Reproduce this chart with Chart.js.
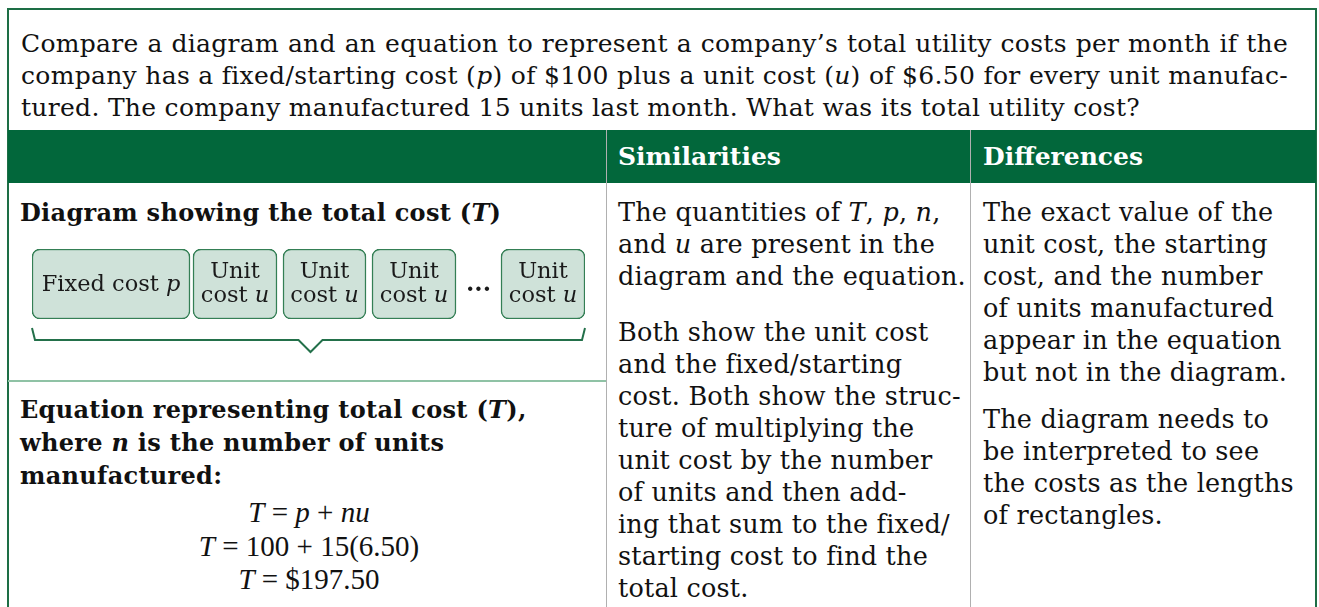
<!DOCTYPE html>
<html>
<head>
<meta charset="utf-8">
<script src="https://cdn.jsdelivr.net/npm/chart.js@4"></script>
<style>
  body { margin: 0; background: #fff; width: 1319px; height: 607px; overflow: hidden; position: relative; }
  .abs { position: absolute; }
  .frame { left: 7px; top: 8px; width: 1310px; height: 700px; border: 2px solid #1d6e45; box-sizing: border-box; }
  .txt { font-family: "DejaVu Serif", serif; color: #111; white-space: nowrap; }
  .intro { left: 21px; top: 28px; width: 1267px; font-size: 25px; line-height: 32px; letter-spacing: 0.3px; }
  .intro .j { text-align: justify; text-align-last: justify; }
  .head { top: 130px; left: 8px; width: 1308px; height: 53px; background: #02673b; }
  .hcell { top: 141px; font-family: "DejaVu Serif", serif; font-weight: bold; font-size: 25px; line-height: 32px; color: #fff; }
  .vline { top: 130px; width: 1px; height: 480px; background: #b0b0b0; }
  .hline { left: 8px; top: 380px; width: 598px; height: 2px; background: #8fc2a5; }
  .bold { font-weight: bold; font-size: 24px; line-height: 33px; letter-spacing: 0.3px; }
  .col { font-size: 25.5px; line-height: 32px; letter-spacing: 0.2px; }
  .eq { font-family: "Liberation Serif", serif; font-size: 29px; line-height: 33.5px; text-align: center; color: #111; white-space: nowrap; }
  #diagram { left: 20px; top: 240px; width: 580px; height: 125px; }
</style>
</head>
<body>
<div class="abs frame"></div>

<div class="abs txt intro">
  <div class="j">Compare a diagram and an equation to represent a company’s total utility costs per month if the</div>
  <div class="j">company has a fixed/starting cost (<i>p</i>) of $100 plus a unit cost (<i>u</i>) of $6.50 for every unit manufac-</div>
  <div>tured. The company manufactured 15 units last month. What was its total utility cost?</div>
</div>

<div class="abs head"></div>
<div class="abs hcell" style="left:618px">Similarities</div>
<div class="abs hcell" style="left:983px">Differences</div>
<div class="abs vline" style="left:606px"></div>
<div class="abs vline" style="left:970px"></div>
<div class="abs hline"></div>

<div class="abs txt bold" style="left:20px; top:196px">Diagram showing the total cost (<i>T</i>)</div>

<div class="abs" id="diagram"><canvas id="chart"></canvas></div>

<div class="abs txt bold" style="left:20px; top:393px">
  <div>Equation representing total cost (<i>T</i>),</div>
  <div>where <i>n</i> is the number of units</div>
  <div>manufactured:</div>
</div>
<div class="abs eq" style="left:10px; top:496px; width:598px">
  <div><i>T</i> = <i>p</i> + <i>nu</i></div>
  <div><i>T</i> = 100 + 15(6.50)</div>
  <div><i>T</i> = $197.50</div>
</div>

<div class="abs txt col" style="left:618px; top:196px">
  <div>The quantities of <i>T</i>, <i>p</i>, <i>n</i>,</div>
  <div>and <i>u</i> are present in the</div>
  <div>diagram and the equation.</div>
</div>
<div class="abs txt col" style="left:618px; top:316px">
  <div>Both show the unit cost</div>
  <div>and the fixed/starting</div>
  <div>cost. Both show the struc-</div>
  <div>ture of multiplying the</div>
  <div>unit cost by the number</div>
  <div>of units and then add-</div>
  <div>ing that sum to the fixed/</div>
  <div>starting cost to find the</div>
  <div>total cost.</div>
</div>

<div class="abs txt col" style="left:983px; top:196px">
  <div>The exact value of the</div>
  <div>unit cost, the starting</div>
  <div>cost, and the number</div>
  <div>of units manufactured</div>
  <div>appear in the equation</div>
  <div>but not in the diagram.</div>
</div>
<div class="abs txt col" style="left:983px; top:403px">
  <div>The diagram needs to</div>
  <div>be interpreted to see</div>
  <div>the costs as the lengths</div>
  <div>of rectangles.</div>
</div>

<script>
// pieces of the total-cost diagram, lengths as drawn
var segLabels = ['Fixed cost p', 'Unit cost u', 'Unit cost u', 'Unit cost u', 'Unit cost u'];
var segLengths = [158, 84, 83, 84, 84];
var segGaps = [0, 3, 6, 6, 45];

var fill = '#cfe2d9';
var edge = '#347f55';
var dark = '#23704a';

var datasets = [];
var pos = 0;
segLengths.forEach(function (len, i) {
  pos += segGaps[i];
  datasets.push({
    label: segLabels[i],
    data: [[pos, pos + len]],
    backgroundColor: fill,
    borderColor: edge,
    borderWidth: 1.5,
    borderRadius: 8,
    borderSkipped: false,
    barPercentage: 1,
    categoryPercentage: 1
  });
  pos += len;
});
var total = pos;

function drawParts(ctx, parts, cx, y, size) {
  var w = 0;
  parts.forEach(function (p) {
    ctx.font = (p[1] ? 'italic ' : '') + size + 'px "DejaVu Serif"';
    w += ctx.measureText(p[0]).width;
  });
  var x = cx - w / 2;
  parts.forEach(function (p) {
    ctx.font = (p[1] ? 'italic ' : '') + size + 'px "DejaVu Serif"';
    ctx.fillText(p[0], x, y);
    x += ctx.measureText(p[0]).width;
  });
}

var boxText = {
  id: 'boxText',
  afterDatasetsDraw: function (chart) {
    var ctx = chart.ctx;
    var area = chart.chartArea;
    ctx.save();
    ctx.fillStyle = '#1a1a1a';
    ctx.textBaseline = 'middle';
    ctx.textAlign = 'left';
    chart.data.datasets.forEach(function (ds, i) {
      var bar = chart.getDatasetMeta(i).data[0];
      var cx = (bar.x + bar.base) / 2;
      var cy = bar.y;
      var words = ds.label.split(' ');
      var last = words.pop();
      if (ds.label.indexOf('Unit') === 0) {
        drawParts(ctx, [[words[0], false]], cx, cy - 12, 22.5);
        drawParts(ctx, [[words[1] + ' ', false], [last, true]], cx, cy + 12, 22.5);
      } else {
        drawParts(ctx, [[words.join(' ') + ' ', false], [last, true]], cx, cy + 1, 22.5);
      }
    });
    // ellipsis in the gap before the last box
    var metas = chart.data.datasets.map(function (d, i) { return chart.getDatasetMeta(i).data[0]; });
    var a = metas[metas.length - 2], b = metas[metas.length - 1];
    ctx.font = 'bold 24px "DejaVu Serif"';
    ctx.textAlign = 'center';
    ctx.fillText('...', (a.x + b.base) / 2, b.y + 1);

    // brace under the whole length
    var l = chart.scales.x.getPixelForValue(0);
    var r = chart.scales.x.getPixelForValue(total);
    var m = (l + r) / 2 + 2;
    var y0 = area.bottom + 9;
    ctx.strokeStyle = dark;
    ctx.lineWidth = 2;
    ctx.lineJoin = 'miter';
    ctx.beginPath();
    ctx.moveTo(l, y0);
    ctx.lineTo(l + 3, y0 + 12);
    ctx.lineTo(m - 12, y0 + 12);
    ctx.lineTo(m, y0 + 24);
    ctx.lineTo(m + 12, y0 + 12);
    ctx.lineTo(r - 3, y0 + 12);
    ctx.lineTo(r, y0);
    ctx.stroke();
    ctx.restore();
  }
};

new Chart(document.getElementById('chart'), {
  type: 'bar',
  data: { labels: ['T'], datasets: datasets },
  options: {
    indexAxis: 'y',
    responsive: true,
    maintainAspectRatio: false,
    animation: false,
    layout: { padding: { left: 12, right: 15, top: 9, bottom: 46 } },
    scales: {
      x: { type: 'linear', min: 0, max: total, display: false },
      y: { stacked: true, display: false }
    },
    plugins: { legend: { display: false }, tooltip: { enabled: false } }
  },
  plugins: [boxText]
});
</script>
</body>
</html>
